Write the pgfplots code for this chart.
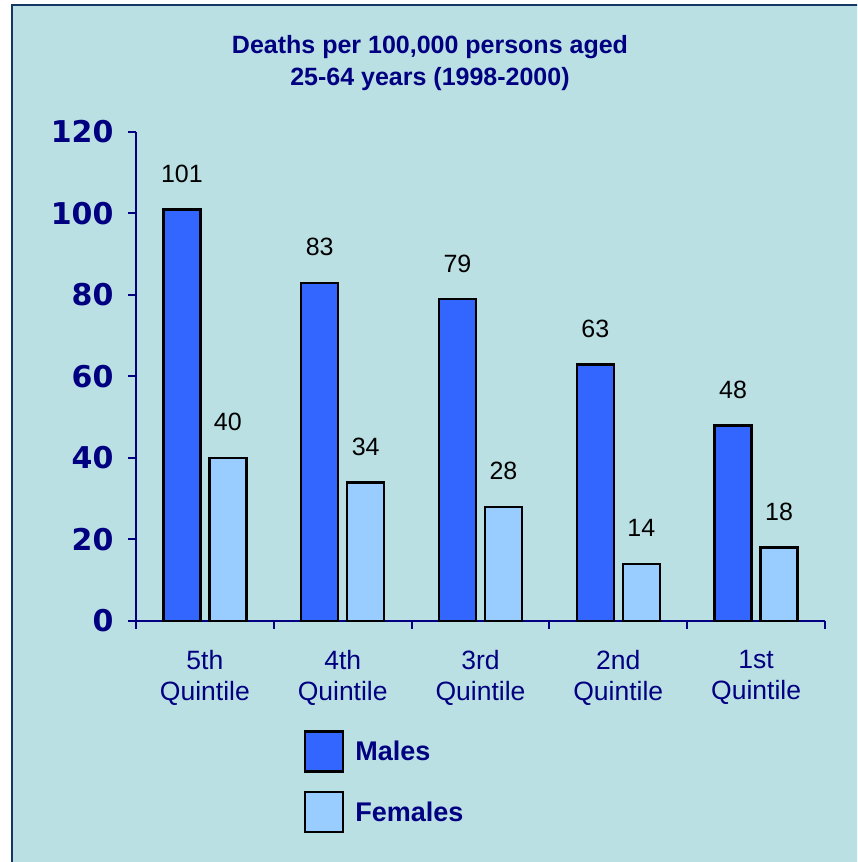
\documentclass[border=0pt]{standalone}
\usepackage{pgfplots}
\pgfplotsset{compat=1.18}
\usepackage{fontspec}
\setmainfont{Liberation Sans}
\newfontfamily\tickfont{DejaVu Sans}
\definecolor{bgc}{RGB}{186,224,227}
\definecolor{navyc}{RGB}{0,0,128}
\definecolor{malec}{RGB}{51,102,255}
\definecolor{femalec}{RGB}{153,204,255}
\definecolor{framec}{RGB}{20,55,100}
\begin{document}
\begin{tikzpicture}[x=1pt,y=1pt]
\clip (0,0) rectangle (857,862);
\draw[line width=2.5pt, draw=framec, fill=bgc] (12,-20) rectangle (880,857);
\node[font=\bfseries\fontsize{25}{32}\selectfont, text=navyc, align=center, anchor=base] at (430,776) {Deaths per 100,000 persons aged\\25-64 years (1998-2000)};
\begin{axis}[
  at={(136pt,241pt)}, anchor=south west,
  scale only axis, width=689pt, height=489pt,
  xmin=-0.5, xmax=4.5, ymin=0, ymax=120,
  axis x line=bottom, axis y line=left,
  axis line style={-, draw=navyc, line width=2pt},
  tick align=outside, major tick length=8pt,
  every tick/.style={draw=navyc, line width=2pt},
  ytick={0,20,...,120},
  xtick={0,1,2,3,4},
  xticklabels={{5th\\Quintile},{4th\\Quintile},{3rd\\Quintile},{2nd\\Quintile},{1st\\Quintile}},
  xtick style={draw=none},
  extra x ticks={-0.5,0.5,1.5,2.5,3.5,4.5},
  extra x tick labels={},
  extra x tick style={xtick style={draw=navyc, line width=2pt}},
  /pgf/number format/assume math mode=true,
  y tick label style={font=\tickfont\bfseries\fontsize{30}{32}\selectfont, text=navyc, xshift=-11pt},
  x tick label style={font=\fontsize{26.5}{31}\selectfont, text=navyc, align=center, yshift=-18pt},
  nodes near coords,
  every node near coord/.append style={font=\fontsize{25}{30}\selectfont, text=black, anchor=base, yshift=27pt},
  legend style={at={(axis description cs:0.239,-0.219)}, anchor=north west, draw=none, fill=none,
    font=\bfseries\fontsize{27}{30}\selectfont, text=navyc, row sep=18pt, column sep=9pt},
  legend cell align=left,
  clip=false,
]
\addplot[ybar, bar width=37pt, bar shift=-23pt, fill=malec, draw=black, line width=2.5pt,
  every node near coord/.append style={xshift=-23pt},
  legend image code/.code={\draw[fill=malec, draw=black, line width=2.5pt] (0pt,-20pt) rectangle (38pt,20pt);}]
  coordinates {(0,101) (1,83) (2,79) (3,63) (4,48)};
\addlegendentry{Males}
\addplot[ybar, bar width=37pt, bar shift=23pt, fill=femalec, draw=black, line width=2.5pt,
  every node near coord/.append style={xshift=23pt},
  legend image code/.code={\draw[fill=femalec, draw=black, line width=2.5pt] (0pt,-20pt) rectangle (38pt,20pt);}]
  coordinates {(0,40) (1,34) (2,28) (3,14) (4,18)};
\addlegendentry{Females}
\end{axis}
\end{tikzpicture}
\end{document}
